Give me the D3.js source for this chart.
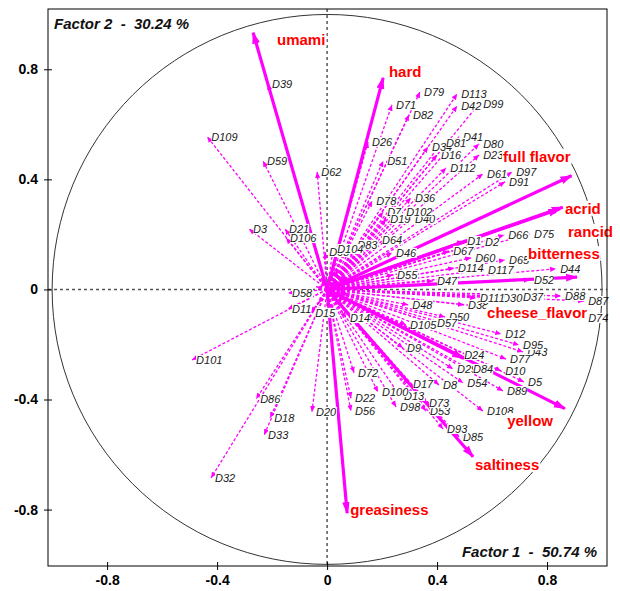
<!DOCTYPE html>
<html>
<head>
<meta charset="utf-8">
<script src="https://cdn.jsdelivr.net/npm/d3@7"></script>
<style>
body { margin: 0; background: #fff; }
text { font-family: Arial, "Liberation Sans", sans-serif; }
</style>
</head>
<body>
<svg width="620" height="591"></svg>
<script>
// active variables (bold arrows)
const activeNames = ["umami", "hard", "full flavor", "acrid", "rancid", "bitterness", "cheese_flavor", "yellow", "saltiness", "greasiness"];
const activeX = [-0.269, 0.204, 0.889, 0.857, 0.845, 0.909, 0.495, 0.865, 0.531, 0.073];
const activeY = [0.933, 0.769, 0.413, 0.299, 0.292, 0.045, -0.250, -0.433, -0.608, -0.813];
const activeLabelX = [-0.182, 0.225, 0.640, 0.865, 0.876, 0.731, 0.582, 0.655, 0.538, 0.084];
const activeLabelY = [0.907, 0.791, 0.482, 0.293, 0.209, 0.129, -0.085, -0.478, -0.638, -0.802];

// supplementary variables (dashed arrows)
const suppNames = ["D39","D109","D59","D62","D3","D21","D106","D104","D83","D64","D46","D1","D2","D66","D75","D67","D60","D65","D55","D114","D117","D44","D47","D52","D88","D87","D74","D37","D111","D30","D48","D38","D105","D57","D50","D14","D15","D58","D11","D101","D86","D18","D33","D20","D32","D9","D24","D72","D17","D8","D29","D84","D54","D100","D13","D22","D56","D98","D73","D53","D108","D93","D85","D95","D77","D43","D10","D5","D89","D12","D26","D71","D82","D79","D113","D42","D99","D51","D81","D34","D16","D41","D80","D23","D112","D61","D97","D91","D78","D36","D102","D40","D7","D19","D68",
  "D4","D6","D25","D27","D28","D31","D35","D45","D49","D63","D69","D70","D76","D90","D92","D94","D96","D103","D107","D110","D115","D116"];
const suppX = [-0.215,-0.436,-0.233,-0.036,-0.284,-0.153,-0.149,0.022,0.095,0.185,0.236,0.495,0.560,0.644,0.738,0.444,0.524,0.647,0.240,0.462,0.571,0.833,0.385,0.738,0.851,0.935,0.935,0.698,0.542,0.622,0.295,0.498,0.287,0.385,0.429,0.069,-0.058,-0.142,-0.142,-0.491,-0.258,-0.207,-0.229,-0.055,-0.422,0.276,0.484,0.098,0.298,0.407,0.458,0.516,0.495,0.185,0.265,0.087,0.087,0.251,0.356,0.360,0.567,0.422,0.480,0.698,0.651,0.713,0.633,0.716,0.640,0.633,0.149,0.236,0.298,0.338,0.473,0.473,0.553,0.204,0.418,0.367,0.400,0.480,0.553,0.553,0.433,0.567,0.673,0.647,0.164,0.305,0.273,0.305,0.204,0.215,-0.007,
  0.060,0.080,0.050,0.030,0.070,-0.020,0.040,0.065,0.055,0.020,-0.030,0.070,0.040,0.070,0.030,-0.040,0.060,0.020,0.045,0.075,0.035,0.065];
const suppY = [0.747,0.555,0.467,0.427,0.220,0.220,0.187,0.147,0.162,0.180,0.133,0.176,0.173,0.198,0.202,0.140,0.115,0.107,0.053,0.078,0.071,0.075,0.031,0.035,-0.024,-0.042,-0.104,-0.027,-0.031,-0.031,-0.056,-0.056,-0.129,-0.122,-0.100,-0.104,-0.085,-0.013,-0.071,-0.256,-0.398,-0.467,-0.529,-0.445,-0.685,-0.213,-0.238,-0.303,-0.344,-0.347,-0.289,-0.289,-0.340,-0.373,-0.387,-0.395,-0.442,-0.427,-0.413,-0.442,-0.442,-0.507,-0.536,-0.202,-0.253,-0.227,-0.296,-0.336,-0.369,-0.162,0.536,0.671,0.635,0.718,0.711,0.667,0.675,0.467,0.533,0.518,0.489,0.555,0.529,0.489,0.442,0.420,0.427,0.391,0.322,0.333,0.282,0.256,0.282,0.256,0.136,
  0.050,-0.020,-0.060,0.070,0.020,0.040,-0.030,0.045,-0.055,-0.080,-0.050,-0.040,0.070,-0.010,0.030,0.010,0.000,0.060,0.030,0.045,-0.045,-0.030];

const xTicks = [-0.8, -0.4, 0, 0.4, 0.8];
const yTicks = [-0.8, -0.4, 0, 0.4, 0.8];
const xTitle = "Factor 1  -  50.74 %";
const yTitle = "Factor 2  -  30.24 %";

const box = { left: 48, right: 607, top: 9, bottom: 566 };
const magenta = "#ff00ff";

const svg = d3.select("svg");

const x = d3.scaleLinear().domain([-1.015, 1.018]).range([box.left, box.right]);
const y = d3.scaleLinear().domain([-1.005, 1.019]).range([box.bottom, box.top]);

const defs = svg.append("defs");
defs.append("marker")
  .attr("id", "headSmall")
  .attr("markerUnits", "userSpaceOnUse")
  .attr("viewBox", "0 -3 6 6")
  .attr("refX", 6).attr("refY", 0)
  .attr("markerWidth", 6).attr("markerHeight", 6)
  .attr("orient", "auto")
  .append("path").attr("d", "M0,-2.6L6,0L0,2.6Z").attr("fill", magenta);
defs.append("marker")
  .attr("id", "headBig")
  .attr("markerUnits", "userSpaceOnUse")
  .attr("viewBox", "0 -5 12 10")
  .attr("refX", 11).attr("refY", 0)
  .attr("markerWidth", 12).attr("markerHeight", 10)
  .attr("orient", "auto")
  .append("path").attr("d", "M0,-4L12,0L0,4Z").attr("fill", magenta);

const supp = suppNames.map((n, i) => ({ name: n, x: suppX[i], y: suppY[i], num: +n.slice(1) }));
const active = activeNames.map((n, i) => ({ name: n, x: activeX[i], y: activeY[i], lx: activeLabelX[i], ly: activeLabelY[i] }));

// unit circle
svg.append("circle")
  .attr("cx", x(0)).attr("cy", y(0))
  .attr("r", x(1) - x(0))
  .attr("fill", "none")
  .attr("stroke", "#333")
  .attr("stroke-width", 1);

// zero lines
svg.append("line")
  .attr("x1", x(0)).attr("x2", x(0)).attr("y1", box.top).attr("y2", box.bottom)
  .attr("stroke", "#555").attr("stroke-width", 1.5).attr("stroke-dasharray", "3,3");
svg.append("line")
  .attr("x1", box.left).attr("x2", box.right).attr("y1", y(0)).attr("y2", y(0))
  .attr("stroke", "#555").attr("stroke-width", 1.5).attr("stroke-dasharray", "3,3");

// dashed arrows
svg.append("g").selectAll("line")
  .data(supp)
  .enter().append("line")
  .attr("x1", x(0)).attr("y1", y(0))
  .attr("x2", d => x(d.x)).attr("y2", d => y(d.y))
  .attr("stroke", magenta)
  .attr("stroke-width", 1.3)
  .attr("stroke-dasharray", "3,2")
  .attr("marker-end", "url(#headSmall)");

// bold arrows
svg.append("g").selectAll("line")
  .data(active)
  .enter().append("line")
  .attr("x1", x(0)).attr("y1", y(0))
  .attr("x2", d => x(d.x)).attr("y2", d => y(d.y))
  .attr("stroke", magenta)
  .attr("stroke-width", 3.2)
  .attr("marker-end", "url(#headBig)");

// D labels, each on a white box (labels of the tiny arrows at the origin are hidden in the blob)
const labelled = supp.filter(d => Math.hypot(d.x, d.y) > 0.09).sort((a, b) => a.num - b.num);
const lg = svg.append("g");
labelled.forEach(d => {
  const g = lg.append("g");
  const rect = g.append("rect").attr("fill", "#fff");
  const t = g.append("text")
    .attr("x", x(d.x) + 4)
    .attr("y", y(d.y) + 4)
    .attr("font-size", 11)
    .attr("font-style", "italic")
    .attr("fill", "#1a1a1a")
    .text(d.name);
  const b = t.node().getBBox();
  rect.attr("x", b.x).attr("y", b.y + 1).attr("width", b.width).attr("height", b.height - 2);
});

// active labels
const ag = svg.append("g");
active.forEach(d => {
  const g = ag.append("g");
  const rect = g.append("rect").attr("fill", "#fff");
  const t = g.append("text")
    .attr("x", x(d.lx))
    .attr("y", y(d.ly) + 5)
    .attr("font-size", 15)
    .attr("font-weight", "bold")
    .attr("fill", "#ff0000")
    .text(d.name);
  const b = t.node().getBBox();
  rect.attr("x", b.x - 1).attr("y", b.y + 1).attr("width", b.width + 2).attr("height", b.height - 2);
});

// axes
const fmt = d => d === 0 ? "0" : d.toFixed(1);
const yAxis = svg.append("g")
  .attr("transform", `translate(${box.left},0)`)
  .call(d3.axisLeft(y).tickValues(yTicks).tickFormat(fmt).tickSize(4).tickPadding(6));
const xAxis = svg.append("g")
  .attr("transform", `translate(0,${box.bottom})`)
  .call(d3.axisBottom(x).tickValues(xTicks).tickFormat(fmt).tickSize(4).tickPadding(5));
[xAxis, yAxis].forEach(a => {
  a.select(".domain").remove();
  a.selectAll("text")
    .attr("font-family", "Arial, 'Liberation Sans', sans-serif")
    .attr("font-size", 14)
    .attr("font-weight", "bold")
    .attr("fill", "#000");
  a.selectAll("line").attr("stroke", "#000");
});
yAxis.selectAll(".tick line").attr("x1", 4).attr("x2", -4);
xAxis.selectAll(".tick line").attr("y1", -4).attr("y2", 4);

// frame
svg.append("rect")
  .attr("x", box.left).attr("y", box.top)
  .attr("width", box.right - box.left).attr("height", box.bottom - box.top)
  .attr("fill", "none").attr("stroke", "#000").attr("stroke-width", 1);

// axis titles
svg.append("text")
  .attr("x", box.left + 6).attr("y", box.top + 20)
  .attr("font-size", 15).attr("font-weight", "bold").attr("font-style", "italic")
  .style("white-space", "pre")
  .attr("fill", "#111")
  .text(yTitle);
svg.append("text")
  .attr("x", box.right - 10).attr("y", box.bottom - 9)
  .attr("text-anchor", "end")
  .attr("font-size", 15).attr("font-weight", "bold").attr("font-style", "italic")
  .style("white-space", "pre")
  .attr("fill", "#111")
  .text(xTitle);
</script>
</body>
</html>
